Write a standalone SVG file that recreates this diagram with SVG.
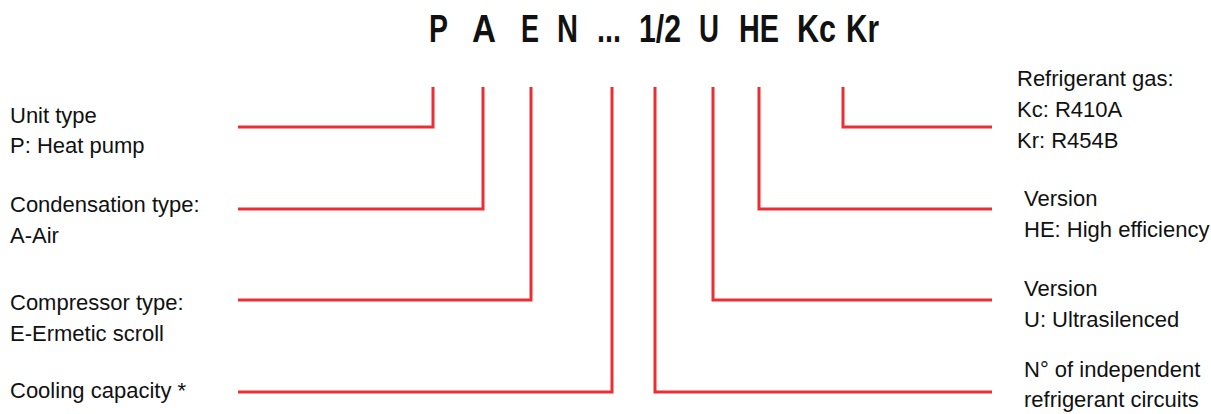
<svg xmlns="http://www.w3.org/2000/svg" width="1211" height="414" viewBox="0 0 1211 414">
<style>
.t{font-family:"Liberation Sans",Arial,sans-serif;font-size:22px;fill:#111}
.h{font-family:"Liberation Sans",Arial,sans-serif;font-size:38px;font-weight:bold;fill:#111}
.c{fill:none;stroke:#ea2e33;stroke-width:3}
</style>
<rect width="1211" height="414" fill="#fff"/>
<g id="title">
<text class="h" x="429" y="42" textLength="19" lengthAdjust="spacingAndGlyphs">P</text>
<text class="h" x="472" y="42" textLength="24" lengthAdjust="spacingAndGlyphs">A</text>
<text class="h" x="521" y="42" textLength="18" lengthAdjust="spacingAndGlyphs">E</text>
<text class="h" x="557" y="42" textLength="21" lengthAdjust="spacingAndGlyphs">N</text>
<text class="h" x="597" y="42" textLength="24" lengthAdjust="spacingAndGlyphs">...</text>
<text class="h" x="639" y="42" textLength="42" lengthAdjust="spacingAndGlyphs">1/2</text>
<text class="h" x="699" y="42" textLength="20" lengthAdjust="spacingAndGlyphs">U</text>
<text class="h" x="739" y="42" textLength="40" lengthAdjust="spacingAndGlyphs">HE</text>
<text class="h" x="797" y="42" textLength="39" lengthAdjust="spacingAndGlyphs">Kc</text>
<text class="h" x="846" y="42" textLength="33" lengthAdjust="spacingAndGlyphs">Kr</text>
</g>
<g id="connectors">
<polyline class="c" points="238,127 433,127 433,87"/>
<polyline class="c" points="238,209 483,209 483,87"/>
<polyline class="c" points="238,300 531,300 531,87"/>
<polyline class="c" points="238,392 612,392 612,87"/>
<polyline class="c" points="992,392 655,392 655,87"/>
<polyline class="c" points="992,300 713,300 713,87"/>
<polyline class="c" points="992,209 759,209 759,87"/>
<polyline class="c" points="992,127 843,127 843,87"/>
</g>
<g id="unit-type"><text class="t" x="10" y="123">Unit type</text><text class="t" x="10" y="153">P: Heat pump</text></g>
<g id="condensation-type"><text class="t" x="10" y="212">Condensation type:</text><text class="t" x="10" y="243">A-Air</text></g>
<g id="compressor-type"><text class="t" x="10" y="310">Compressor type:</text><text class="t" x="10" y="341">E-Ermetic scroll</text></g>
<g id="cooling-capacity"><text class="t" x="10" y="398">Cooling capacity *</text></g>
<g id="refrigerant-gas"><text class="t" x="1017" y="86">Refrigerant gas:</text><text class="t" x="1017" y="117">Kc: R410A</text><text class="t" x="1017" y="148">Kr: R454B</text></g>
<g id="version-he"><text class="t" x="1024" y="206">Version</text><text class="t" x="1024" y="237">HE: High efficiency</text></g>
<g id="version-u"><text class="t" x="1024" y="296">Version</text><text class="t" x="1024" y="327">U: Ultrasilenced</text></g>
<g id="circuits"><text class="t" x="1024" y="377">N° of independent</text><text class="t" x="1024" y="407">refrigerant circuits</text></g>
</svg>
